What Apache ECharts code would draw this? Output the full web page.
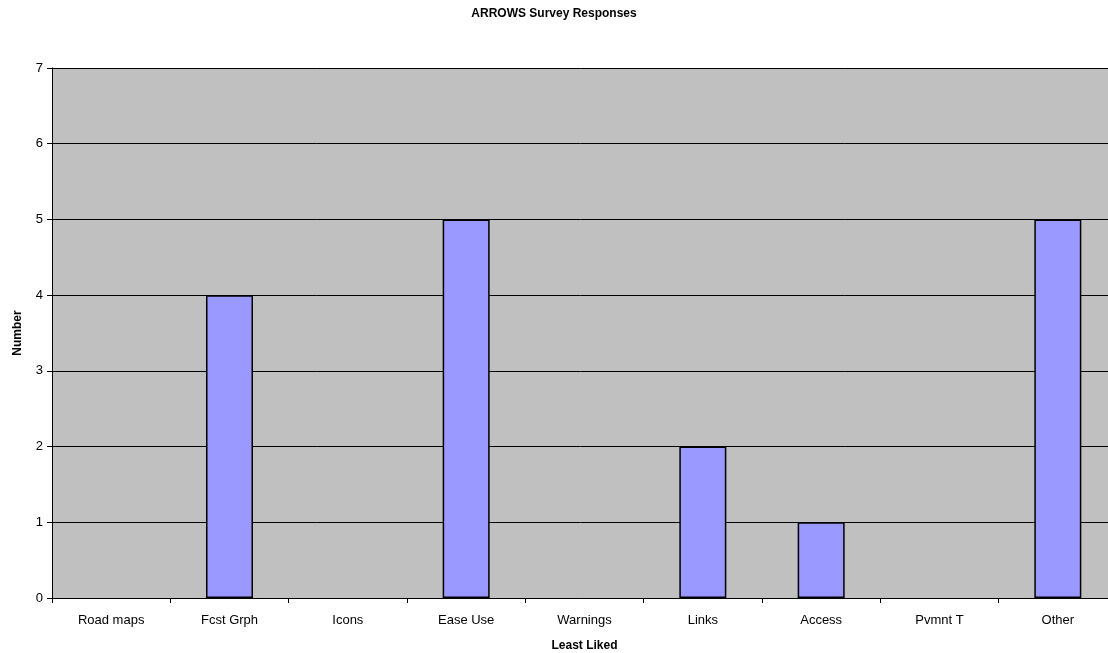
<!DOCTYPE html>
<html>
<head>
<meta charset="utf-8">
<script src="https://cdn.jsdelivr.net/npm/echarts@6/dist/echarts.min.js"></script>
<style>
  html, body { margin: 0; padding: 0; background: #fff; }
  #chart { width: 1108px; height: 653px; }
</style>
</head>
<body>
<div id="chart"></div>
<script>
var categories = ['Road maps', 'Fcst Grph', 'Icons', 'Ease Use', 'Warnings', 'Links', 'Access', 'Pvmnt T', 'Other'];
var counts = [0, 4, 0, 5, 0, 2, 1, 0, 5];

var chart = echarts.init(document.getElementById('chart'));
var font = 'Liberation Sans, Arial, sans-serif';

// zero counts draw no bar at all in the original
var barData = counts.map(function (v) { return v === 0 ? '-' : v; });

var option = {
  animation: false,
  title: {
    text: 'ARROWS Survey Responses',
    left: 'center',
    top: 3,
    textStyle: { fontFamily: font, fontSize: 12, fontWeight: 'bold', color: '#000' }
  },
  grid: {
    left: 52,
    top: 68,
    width: 1065,
    height: 530,
    outerBoundsMode: 'none',
    containLabel: false,
    show: true,
    backgroundColor: '#c0c0c0',
    borderWidth: 0
  },
  xAxis: {
    type: 'category',
    data: categories,
    name: 'Least Liked',
    nameLocation: 'middle',
    nameGap: 42,
    nameTextStyle: { fontFamily: font, fontSize: 12, fontWeight: 'bold', color: '#000' },
    axisLine: { lineStyle: { color: '#000', width: 1 } },
    axisTick: { show: true, alignWithLabel: false, length: 5, lineStyle: { color: '#000' } },
    axisLabel: { fontFamily: font, fontSize: 13, color: '#000', margin: 16, interval: 0 }
  },
  yAxis: {
    type: 'value',
    min: 0,
    max: 7,
    interval: 1,
    name: 'Number',
    nameLocation: 'middle',
    nameGap: 28,
    nameRotate: 90,
    nameTextStyle: { fontFamily: font, fontSize: 12, fontWeight: 'bold', color: '#000' },
    axisLine: { show: true, lineStyle: { color: '#000', width: 1 } },
    axisTick: { show: true, inside: false, length: 5, lineStyle: { color: '#000' } },
    axisLabel: { fontFamily: font, fontSize: 13, color: '#000', margin: 9 },
    splitLine: { show: true, lineStyle: { color: '#000', width: 1 } }
  },
  series: [
    {
      type: 'bar',
      data: barData,
      barWidth: 47,
      itemStyle: { color: '#9999ff', borderColor: '#000', borderWidth: 1.5 }
    }
  ]
};

chart.setOption(option);
</script>
</body>
</html>
